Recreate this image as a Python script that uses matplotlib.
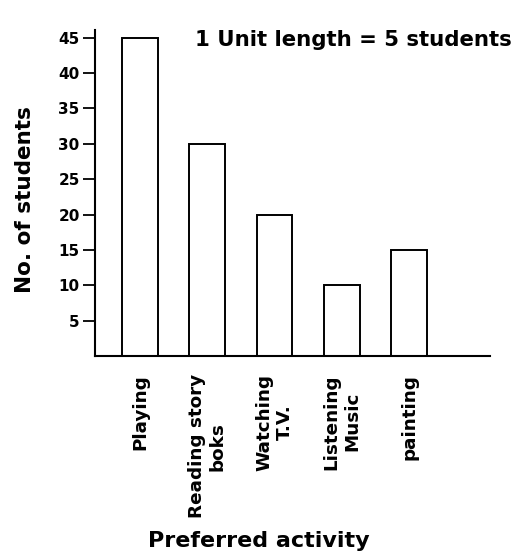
import matplotlib
matplotlib.use("Agg")
import matplotlib.pyplot as plt

activities = ["Playing", "Reading story\nboks", "Watching\nT.V.", "Listening\nMusic", "painting"]
students = [45, 30, 20, 10, 15]
yticks = [5, 10, 15, 20, 25, 30, 35, 40, 45]

plt.rcParams['font.family'] = ['DejaVu Sans']

fig = plt.figure(figsize=(5.18, 5.57), dpi=100)
ax = fig.add_axes([95/518, 1-356/557, (490-95)/518, (356-30)/557])

x = list(range(len(activities)))
ax.bar(x, students, width=0.53, color='white', edgecolor='black', linewidth=1.4)

ax.set_ylim(0, 46.1)
ax.set_xlim(-0.669, 5.2)
ax.set_yticks(yticks)
ax.set_yticklabels([str(v) for v in yticks], fontsize=11, fontweight='bold')
ax.set_xticks(x)
ax.set_xticklabels(activities, rotation=90, fontsize=13.2, fontweight='bold',
                   ha='center', va='top', multialignment='center', linespacing=1.2)
ax.tick_params(axis='y', length=9, width=1.3, pad=2)
ax.tick_params(axis='x', length=0, pad=13)

for s in ['top', 'right']:
    ax.spines[s].set_visible(False)
ax.spines['left'].set_linewidth(1.5)
ax.spines['bottom'].set_linewidth(1.5)

fig.text(25/518, 1-200/557, "No. of students", fontsize=15.5, fontweight='bold',
         rotation=90, ha='center', va='center')
fig.text(259/518, 1-541/557, "Preferred activity", fontsize=16, fontweight='bold',
         ha='center', va='center')
fig.text(195/518, 1-40/557, "1 Unit length = 5 students", fontsize=15.3, fontweight='bold',
         ha='left', va='center')

fig.savefig("out.png", dpi=100)
